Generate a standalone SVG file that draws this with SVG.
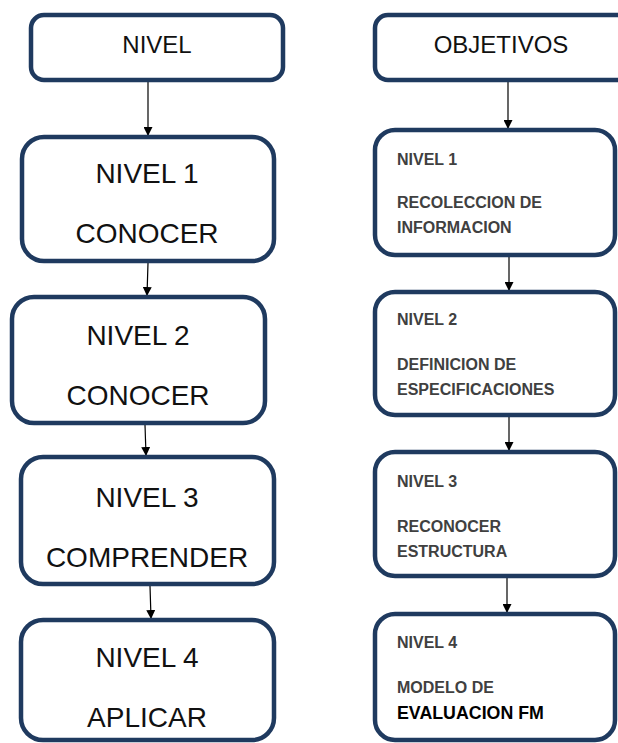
<svg xmlns="http://www.w3.org/2000/svg" width="618" height="743" viewBox="0 0 618 743">
<style>
.box{fill:#fff;stroke:#1f3a5f;stroke-width:4.5}
.big{font-family:"Liberation Sans",Arial,sans-serif;font-size:28px;fill:#111;text-anchor:middle}
.head{font-family:"Liberation Sans",Arial,sans-serif;font-size:24px;fill:#111;text-anchor:middle}
.sm{font-family:"Liberation Sans",Arial,sans-serif;font-size:16px;font-weight:bold;fill:#404040}
.smb{font-family:"Liberation Sans",Arial,sans-serif;font-size:17.8px;font-weight:bold;fill:#000}
.con{stroke:#000;stroke-width:1.2;fill:none}
</style>
<defs>
<marker id="ah" markerWidth="9" markerHeight="9" refX="8" refY="4.5" orient="auto" markerUnits="userSpaceOnUse">
<path d="M0,0 L9,4.5 L0,9 z" fill="#000"/>
</marker>
</defs>
<rect width="618" height="743" fill="#fff"/>
<g id="connectors">
<line class="con" x1="148" y1="82" x2="148" y2="135" marker-end="url(#ah)"/>
<line class="con" x1="148" y1="263" x2="147" y2="295" marker-end="url(#ah)"/>
<line class="con" x1="145" y1="425" x2="146" y2="455" marker-end="url(#ah)"/>
<line class="con" x1="150" y1="586" x2="151" y2="618" marker-end="url(#ah)"/>
<line class="con" x1="508" y1="82" x2="508" y2="128" marker-end="url(#ah)"/>
<line class="con" x1="509" y1="257" x2="509" y2="290" marker-end="url(#ah)"/>
<line class="con" x1="509" y1="417" x2="509" y2="450" marker-end="url(#ah)"/>
<line class="con" x1="507" y1="578" x2="507" y2="612" marker-end="url(#ah)"/>
</g>
<g id="nivel">
<rect class="box" x="31" y="15" width="252" height="65" rx="13"/>
<text class="head" x="157" y="53">NIVEL</text>
</g>
<g id="nivel1">
<rect class="box" x="22" y="137" width="252" height="124" rx="22"/>
<text class="big" x="147" y="183">NIVEL 1</text>
<text class="big" x="147" y="243">CONOCER</text>
</g>
<g id="nivel2">
<rect class="box" x="12" y="297" width="253" height="126" rx="22"/>
<text class="big" x="138" y="345">NIVEL 2</text>
<text class="big" x="138" y="405">CONOCER</text>
</g>
<g id="nivel3">
<rect class="box" x="21" y="457" width="253" height="127" rx="22"/>
<text class="big" x="147" y="507">NIVEL 3</text>
<text class="big" x="147" y="567">COMPRENDER</text>
</g>
<g id="nivel4">
<rect class="box" x="21" y="620" width="253" height="120" rx="22"/>
<text class="big" x="147" y="667">NIVEL 4</text>
<text class="big" x="147" y="727">APLICAR</text>
</g>
<g id="objetivos">
<rect class="box" x="375" y="15" width="260" height="65" rx="13"/>
<text class="head" x="501" y="53">OBJETIVOS</text>
</g>
<g id="obj1">
<rect class="box" x="375" y="130" width="240" height="125" rx="20"/>
<text class="sm" x="397" y="165">NIVEL 1</text>
<text class="sm" x="397" y="208">RECOLECCION DE</text>
<text class="sm" x="397" y="233">INFORMACION</text>
</g>
<g id="obj2">
<rect class="box" x="375" y="292" width="240" height="123" rx="20"/>
<text class="sm" x="397" y="325">NIVEL 2</text>
<text class="sm" x="397" y="370">DEFINICION DE</text>
<text class="sm" x="397" y="395">ESPECIFICACIONES</text>
</g>
<g id="obj3">
<rect class="box" x="375" y="452" width="240" height="124" rx="20"/>
<text class="sm" x="397" y="487">NIVEL 3</text>
<text class="sm" x="397" y="532">RECONOCER</text>
<text class="sm" x="397" y="557">ESTRUCTURA</text>
</g>
<g id="obj4">
<rect class="box" x="375" y="614" width="240" height="126" rx="20"/>
<text class="sm" x="397" y="648">NIVEL 4</text>
<text class="sm" x="397" y="693">MODELO DE</text>
<text class="smb" x="397" y="719">EVALUACION FM</text>
</g>
</svg>
